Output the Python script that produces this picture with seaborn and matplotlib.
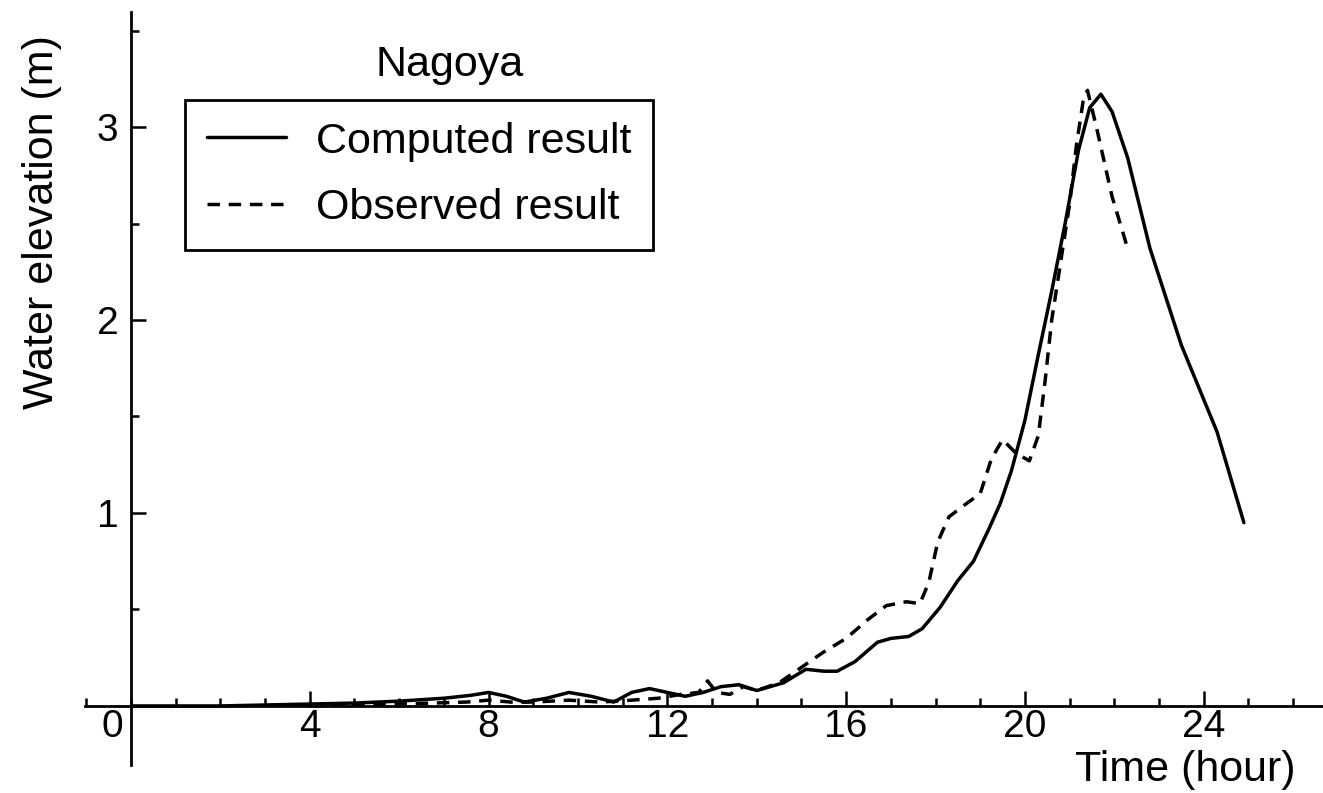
import matplotlib
matplotlib.use("Agg")
import matplotlib.pyplot as plt
import seaborn as sns
import numpy as np
from matplotlib.ticker import MultipleLocator, FixedLocator

# ---- data ----
hours_comp = [0, 2, 4, 5, 6, 7, 7.6, 8.0, 8.4, 8.8, 9.3, 9.8, 10.3, 10.8, 11.2, 11.6,
              12.0, 12.4, 12.8, 13.2, 13.6, 14.0, 14.6, 15.1, 15.5, 15.8, 16.2, 16.7,
              17.0, 17.4, 17.7, 18.1, 18.5, 18.85, 19.2, 19.45, 19.7, 20.0, 20.3, 20.6,
              20.9, 21.2, 21.45, 21.7, 21.95, 22.3, 22.8, 23.5, 24.3, 24.9]
elev_comp = [0.0, 0.0, 0.01, 0.015, 0.025, 0.04, 0.055, 0.07, 0.05, 0.02, 0.04, 0.07,
             0.05, 0.02, 0.07, 0.09, 0.07, 0.05, 0.07, 0.1, 0.11, 0.08, 0.12, 0.19, 0.18,
             0.18, 0.23, 0.33, 0.35, 0.36, 0.4, 0.51, 0.65, 0.75, 0.92, 1.05, 1.22, 1.48,
             1.82, 2.15, 2.5, 2.88, 3.1, 3.17, 3.08, 2.84, 2.37, 1.87, 1.42, 0.95]

hours_obs = [4, 6, 7.5, 8.0, 8.5, 9.0, 9.8, 10.5, 11.2, 11.8, 12.3, 12.7, 12.9, 13.1,
             13.4, 13.7, 14.0, 14.5, 15.0, 15.5, 16.0, 16.5, 16.9, 17.35, 17.65, 17.85,
             18.05, 18.3, 18.7, 19.0, 19.25, 19.5, 19.8, 20.1, 20.3, 20.45, 20.6,
             20.8, 21.0, 21.15, 21.3, 21.4, 21.6, 21.95, 22.3]
elev_obs = [0.0, 0.01, 0.02, 0.03, 0.02, 0.02, 0.03, 0.02, 0.03, 0.04, 0.06, 0.07, 0.13,
            0.07, 0.06, 0.1, 0.08, 0.12, 0.2, 0.28, 0.35, 0.45, 0.52, 0.54, 0.53, 0.64,
            0.85, 0.98, 1.05, 1.1, 1.28, 1.38, 1.31, 1.27, 1.4, 1.68, 2.0, 2.3,
            2.6, 2.9, 3.13, 3.19, 3.0, 2.64, 2.37]

x_major = [4, 8, 12, 16, 20, 24]
x_major_labels = ["4", "8", "12", "16", "20", "24"]
y_major = [1, 2, 3]
y_major_labels = ["1", "2", "3"]

series_labels = ["Computed result", "Observed result"]
title_text = "Nagoya"
xlabel_text = "Time (hour)"
ylabel_text = "Water elevation (m)"

# ---- style ----
sns.set_theme(style="white")
plt.rcParams["font.family"] = ["Liberation Sans", "DejaVu Sans"]
plt.rcParams["text.color"] = "black"

W, H = 1323, 793
fig = plt.figure(figsize=(W / 100, H / 100), dpi=100)
fig.patch.set_facecolor("white")
ax = fig.add_axes([85 / W, 28 / H, 1238 / W, 753 / H])
ax.set_facecolor("white")

lw = 2.5
sns.lineplot(x=hours_comp, y=elev_comp, ax=ax, color="black", lw=lw,
             estimator=None, sort=False, label=series_labels[0])
sns.lineplot(x=hours_obs, y=elev_obs, ax=ax, color="black", lw=lw,
             estimator=None, sort=False, linestyle=(0, (3.6, 2.5)),
             label=series_labels[1])

ax.set_xlim(-1.03, 26.67)
ax.set_ylim(-0.306, 3.596)

# spines through the origin
for s in ["top", "right"]:
    ax.spines[s].set_visible(False)
ax.spines["left"].set_position(("data", 0))
ax.spines["bottom"].set_position(("data", 0))
for s in ["left", "bottom"]:
    ax.spines[s].set_color("black")
    ax.spines[s].set_linewidth(2.0)

ax.xaxis.set_major_locator(FixedLocator(x_major))
ax.set_xticklabels(x_major_labels)
ax.xaxis.set_minor_locator(MultipleLocator(1))
ax.yaxis.set_major_locator(FixedLocator(y_major))
ax.set_yticklabels(y_major_labels)
ax.yaxis.set_minor_locator(FixedLocator([0.5, 1.5, 2.5, 3.5]))

ax.tick_params(axis="x", which="both", bottom=True, top=False)
ax.tick_params(axis="y", which="both", left=True, right=False)
ax.tick_params(axis="x", which="major", direction="in", length=11, width=1.8,
               color="black", labelsize=28, pad=2.5, labelcolor="black")
ax.tick_params(axis="x", which="minor", direction="in", length=6, width=1.8,
               color="black")
ax.tick_params(axis="y", which="major", direction="in", length=11, width=1.8,
               color="black", labelsize=28, pad=9, labelcolor="black")
ax.tick_params(axis="y", which="minor", direction="in", length=6, width=1.8,
               color="black")

# "0" label at the origin, set left of the vertical axis
ax.annotate("0", xy=(0, 0), xycoords="data", xytext=(-6, -2.5),
            textcoords="offset points", ha="right", va="top", fontsize=28,
            color="black")

# axis labels
ax.set_xlabel(xlabel_text, fontsize=31, color="black")
ax.xaxis.label.set_va("center")
ax.xaxis.set_label_coords((1185 - 85) / 1238, (765 - 770) / 753)
ax.set_ylabel(ylabel_text, fontsize=31, color="black")
ax.yaxis.label.set_va("center")
ax.yaxis.label.set_ha("center")
ax.yaxis.set_label_coords((42 - 85) / 1238, (765 - 222) / 753)

# station name
fig.text(450 / W, 1 - 65 / H, title_text, ha="center", va="center", fontsize=31,
         color="black")

# legend
handles, labels = ax.get_legend_handles_labels()
leg = ax.legend(handles, labels, loc="upper left",
                bbox_to_anchor=(185 / W, 1 - 100 / H), bbox_transform=fig.transFigure,
                borderaxespad=0, frameon=True, fancybox=False, framealpha=1,
                edgecolor="black", fontsize=31, handlelength=1.85,
                handletextpad=0.7, borderpad=0.5, labelspacing=0.62)
leg.get_frame().set_linewidth(2.0)
for t in leg.get_texts():
    t.set_color("black")

fig.savefig("out.png", dpi=100, facecolor="white")
